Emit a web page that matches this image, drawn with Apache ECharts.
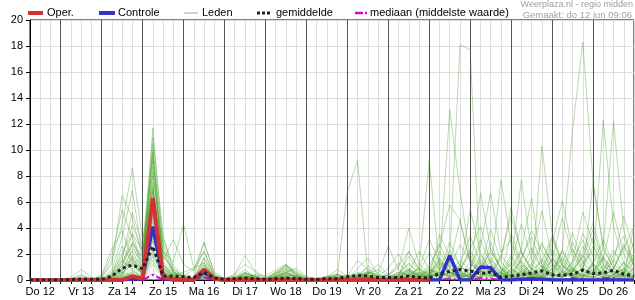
<!DOCTYPE html>
<html><head><meta charset="utf-8">
<script src="https://cdn.jsdelivr.net/npm/echarts@6/dist/echarts.min.js"></script>
<style>html,body{margin:0;padding:0;background:#fff}#c{width:635px;height:300px}</style>
</head><body><div id="c"></div>
<script>
const dayLabels = ['Do 12','Vr 13','Za 14','Zo 15','Ma 16','Di 17','Wo 18','Do 19','Vr 20','Za 21','Zo 22','Ma 23','Di 24','Wo 25','Do 26'];
const hourLabels = ['00','06','12','18'];
const yTicks = [0,2,4,6,8,10,12,14,16,18,20];
const legendNames = ['Oper.','Controle','Leden','gemiddelde','mediaan (middelste waarde)'];

const operValues = [0,0,0,0,0,0,0, 0,0,0,0.3,0.1, 6.3,0.2,0.05,0,0,0.8,0.1,
  0,0,0,0,0,0,0,0,0,0,0,0,0,0,0,0, 0,0,0,0,0];
const controleValues = [0,0,0,0,0,0,0, 0,0,0,0.1,0.1, 4.1,0.1,0,0,0,0.6,0.05,
  0,0,0,0,0,0,0,0,0,0,0,0,0,0,0,0,
  0,0,0,0,0,0,1.9,0,0,1.0,0.95,0,0,0.05,0.1,0.05,0,0,0,0,0,0,0,0,0];
const gemiddeldeValues = [0,0,0,0,0.03,0.08,0.05, 0.05,0.3,0.9,1.15,0.85, 2.6,0.3,0.3,0.25,0.2,0.6,0.15,
  0.05,0.1,0.15,0.1,0.05,0.1,0.15,0.1,0.05,0.05,0.1,0.1,0.25,0.35,0.3,0.2,
  0.2,0.2,0.3,0.2,0.15,0.5,0.65,0.8,0.7,0.5,0.6,0.2,0.3,0.4,0.55,0.7,0.4,0.35,0.45,0.75,0.5,0.55,0.75,0.45,0.3];
const mediaanValues = [0,0,0,0,0,0,0, 0,0,0,0,0, 0.4,0,0,0,0,0.2,0,
  0,0,0,0,0,0,0,0,0,0,0,0,0,0,0,0,
  0,0,0,0,0,0,0.1,0,0,0.15,0.12,0,0,0,0,0,0,0,0.15,0.1,0,0.15,0.15,0,0];

const ledenValues = [
 [0,0,0,0,0,0,0, 0,0.4,2.1,3.5,1.2, 11.7,2.4,0.6,0.2,0.1,1.1,0.2, 0,0.1,0.3,0.1,0,0.2,0.5,0.3,0,0,0.1,0.2,0,0.3,0.6,0.2, 0.1,0.4,1.2,0.6,0.2,3.5,1.8,0.7,2.4,4.1,1.3,0.5,0.2,1.6,3.8,2.2,0.9,0.4,1.5,5.2,2.8,0.7,1.9,3.4,1.1],
 [0,0,0,0,0.1,0.3,0.1, 0.2,1.5,4.3,8.6,3.1, 7.2,1.1,0.4,0.3,0,0.9,0.1, 0,0,0.2,0.4,0.1,0.6,1.1,0.4,0,0,0,0.1,0.2,0.5,0.3,0, 0,0.2,0.8,0.4,1.1,2.6,5.8,4.6,1.3,0.6,2.9,0.8,0.3,0.1,0.9,2.7,1.4,0.3,0.6,2.1,4.4,1.6,0.5,0.8,0.3],
 [0,0,0,0,0,0,0, 0,0.2,0.9,2.2,0.6, 10.5,1.8,0.9,0.3,0.2,2.9,0.6, 0.1,0.3,0.8,0.2,0,0.1,0.3,0.1,0,0.1,0.2,0.4,0.1,0.9,1.7,0.4, 0.3,1.1,2.2,0.9,0.4,1.2,0.5,0.2,0.8,2.6,6.7,2.1,3.1,1.2,0.4,0.2,1.6,0.8,2.9,1.3,0.5,0.2,0.9,2.4,4.2],
 [0,0,0,0,0.2,0.8,0.2, 0.1,0.6,1.8,4.2,2.3, 9.8,0.9,0.3,0.1,0,0.6,0.1, 0,0,0.1,0,0,0.3,0.8,0.5,0.1,0,0,0,0.1,0.2,0.1,0, 0,0,0.3,0.9,9.2,0.8,1.4,0.6,0.3,0.9,2.1,1.0,0.4,1.7,3.3,1.2,0.5,0.2,1.1,3.6,1.8,0.6,0.3,1.4,0.7],
 [0,0,0,0,0,0,0, 0,0.8,3.3,6.9,1.9, 9.2,3.1,1.1,0.4,0.1,1.7,0.3, 0,0.2,0.6,0.3,0,0,0.2,0.1,0,0,0.3,0.5,0.2,0.4,0.2,0.1, 0.2,0.6,0.4,0.1,0.3,1.1,13.1,6.9,1.6,0.7,0.3,1.8,4.9,2.1,0.8,1.4,3.4,1.1,0.4,0.9,2.6,1.2,0.4,0.1,0.3],
 [0,0,0,0,0,0.1,0, 0,0.3,1.2,2.7,0.8, 8.7,1.5,3.1,1.2,0.7,2.2,0.4, 0.1,0.4,1.9,0.6,0.1,0.4,0.9,0.6,0.2,0.1,0.3,0.2,0,0.1,0.2,0, 0.1,0.3,0.2,0.6,0.3,0.8,1.8,18.1,17.7,0.3,0.9,0.4,1.7,0.6,0.2,0.8,2.4,1.1,0.6,1.3,2.2,0.8,0.4,1.3,0.5],
 [0,0,0,0,0,0,0, 0,0.1,0.7,1.9,1.1, 8.0,2.2,1.4,4.3,0.9,1.3,0.2, 0,0.1,0.4,0.2,0,0.2,0.6,0.9,0.3,0.1,0,0.1,0.3,1.5,0.8,0.2, 0.4,0.9,4.0,1.2,0.5,0.2,0.9,2.7,1.5,0.6,1.1,0.4,1.3,7.7,2.1,0.9,0.3,2.3,11.6,18.3,7.5,2.4,0.9,0.5,1.8],
 [0,0,0,0,0,0,0, 0.3,1.9,5.4,3.2,0.9, 7.5,0.6,0.2,0,0,0.4,0, 0,0,0,0.1,0,0,0.1,0,0,0,0,0,0.2,0.4,0.9,0.3, 0.1,0.2,0.6,2.2,0.8,0.3,0.6,1.5,0.8,0.3,0.7,1.9,0.9,0.4,0.2,10.3,3.6,1.4,0.5,0.2,1.3,3.1,1.2,0.6,0.2],
 [0,0,0,0,0,0,0, 0,0,0.4,1.3,0.5, 6.8,0.9,0.3,0.1,0,0.7,0.1, 0,0,0.1,0,0,0.1,0.2,0.1,0,0,0.1,0.3,6.8,9.2,0.4,0.1, 0,0.2,0.1,0.3,0.6,1.4,0.8,0.2,0.4,1.6,0.7,0.3,0.9,2.4,6.3,1.1,0.5,0.2,0.8,1.7,3.9,1.4,0.6,0.2,0.9],
 [0,0,0,0,0,0,0, 0,0.5,2.6,1.4,0.3, 6.8,1.2,0.5,0.2,0.1,1.7,0.3, 0,0,0.5,0.2,0,0.3,0.7,0.2,0,0,0,0.2,0.1,0.3,0.1,0, 0,0.1,0.3,0.2,0.4,0.9,2.3,1.1,0.4,0.2,0.6,7.7,2.8,0.9,0.3,0.1,0.6,1.8,0.7,0.3,1.2,12.3,4.1,1.3,0.5],
 [0,0,0,0,0,0.2,0.1, 0,0.2,1.1,2.8,1.6, 6.0,0.8,0.3,0.2,0,0.5,0.1, 0,0.1,0.2,0.1,0,0.2,0.4,0.3,0,0,0.2,0.4,0.2,0.6,0.3,0.1, 0.2,0.5,1.3,0.4,0.2,0.6,0.3,0.9,2.2,1.1,0.4,0.2,0.8,0.4,1.3,2.9,1.2,0.4,0.2,0.9,0.4,2.6,12.2,3.8,1.2],
 [0,0,0,0,0,0,0, 0,0.1,0.5,1.6,0.9, 5.5,0.7,0.2,0.1,0.2,1.2,0.3, 0.1,0.2,0.3,0.1,0,0.4,1.2,0.5,0.1,0,0,0.1,0.1,0.2,1.1,0.5, 2.6,0.8,0.3,0.1,0.3,1.7,0.6,0.2,0.5,6.7,2.4,0.8,0.3,0.2,0.9,0.4,1.5,4.8,1.9,0.7,0.3,0.8,2.3,0.9,0.4],
 [0,0,0,0,0,0,0, 0,0,0.3,0.9,0.6, 5.0,1.4,0.6,0.3,0.8,2.9,0.5, 0,0.1,0.2,0.1,0,0.1,0.3,0.2,0,0,0.1,0.2,0.1,0.2,0.4,0.2, 0.1,0.3,2.2,0.8,0.3,0.6,0.2,0.4,1.3,0.5,0.2,0.6,1.9,0.8,0.3,0.6,2.1,0.8,0.3,0.5,7.5,2.6,0.9,0.4,0.2],
 [0,0,0,0,0,0,0, 0,0.4,1.5,0.8,0.2, 4.5,0.6,0.1,0,0,0.3,0, 0,0,0.1,0,0,0.1,0.2,0.1,0,0,0,0,0,0.1,0.2,0.1, 0,0.1,0.4,0.9,0.4,0.2,0.6,0.3,0.9,3.1,1.2,0.5,0.2,0.7,0.3,0.2,0.8,1.6,0.7,0.3,0.2,0.6,1.4,4.9,2.3],
 [0,0,0,0,0,0,0, 0,0.2,0.8,1.7,0.4, 4.0,2.1,0.6,0.2,0.1,0.8,0.2, 0,0.2,0.5,0.3,0.1,0.5,1.0,0.3,0,0,0.2,0.3,0.1,0.2,0.5,0.8, 0.3,0.2,0.6,0.3,0.8,0.5,1.6,0.7,0.3,1.9,0.8,0.4,3.6,1.4,0.5,0.3,1.2,0.6,2.4,1.0,0.4,1.1,0.5,0.3,4.2],
 [0,0,0,0,0,0,0, 0,0,0.2,0.6,0.3, 3.5,0.4,0.1,0,0,0.2,0, 0,0,0,0,0,0,0.1,0,0,0,0,0.1,0,0,0.1,0, 0,0,0.1,0.3,0.1,0,0.2,0.6,0.2,0.1,0.4,0.2,0.1,0.6,0.3,0.1,0.2,0.7,0.3,0.1,0.5,0.2,0.1,0.3,0.1],
 [0,0,0,0,0,0,0, 0.4,2.4,3.8,1.6,0.5, 3.0,0.9,0.4,0.1,0,0.6,0.1, 0,0.1,0.3,0.1,0,0.2,0.5,0.2,0,0,0,0.1,0,0.1,0.2,0.1, 0,0.1,0.2,0.5,0.2,0.1,0.3,1.1,0.4,0.2,0.9,0.3,0.1,0.4,1.2,0.5,0.2,0.6,0.3,0.2,0.8,0.3,0.1,0.4,0.2],
 [0,0,0,0,0,0,0, 0,0,0.1,0.4,0.2, 2.5,0.3,0.1,0,0,0.1,0, 0,0,0,0,0,0,0,0,0,0,0,0,0,0,0,0, 0,0,0,0.1,0,0,0.1,0.2,0.1,0,0,0.1,0.3,0.1,0,0,0.2,0.1,0,0.1,0.3,0.1,0,0,0.1],
 [0,0,0,0,0.1,0.4,0.1, 0,0.3,0.6,0.3,0.1, 2.0,0.4,0.2,0.1,0,0.3,0.1, 0,0.2,0.5,0.2,0,0.3,0.6,0.2,0,0,0.1,0.4,0.2,0.3,0.6,0.3, 0.2,0.4,0.8,0.3,0.2,0.5,0.2,0.8,1.9,0.7,0.3,0.2,0.6,1.4,0.5,0.2,0.4,1.1,0.4,0.2,0.6,1.7,0.6,0.3,0.2],
 [0,0,0,0,0,0,0, 0,0.1,0.3,0.2,0, 1.2,0.2,0,0,0,0.1,0, 0,0,0,0,0,0,0,0,0,0,0,0,0,0,0,0, 0,0,0,0,0,0.1,0,0,0.2,0.1,0,0,0.1,0,0,0.2,0.1,0,0,0.1,0,0,0.2,0.1,0],
 [0,0,0,0,0,0,0, 0,0,0,0.1,0, 0.5,0.1,0,0,0,0,0, 0,0,0,0,0,0,0.1,0,0,0,0,0,0,0,0,0, 0,0,0,0,0,0,0,0.1,0,0,0,0,0,0.1,0,0,0,0,0,0,0.1,0,0,0,0],
 [0,0,0,0,0,0,0, 0,0.3,1.6,5.2,2.6, 11.0,3.4,0.8,0.3,0.1,1.4,0.2, 0,0.5,1.2,0.7,0.2,0.5,0.8,0.3,0.1,0,0.1,0.2,0.1,0.2,0.3,0.1, 0,0.2,0.5,0.2,0.4,1.3,0.6,0.3,0.8,0.4,1.5,0.6,0.2,0.7,2.5,0.9,0.4,0.2,0.6,1.9,0.7,0.3,0.9,2.8,1.1],
 [0,0,0,0,0,0,0, 0,0.1,0.6,2.4,1.4, 9.5,0.7,0.2,0.1,0,0.8,0.1, 0,0,0.2,0.1,0,0.6,1.1,0.7,0.2,0,0,0.1,0,0.1,0.5,1.2, 0.4,0.2,0.1,0.3,0.9,0.4,1.2,4.6,1.3,0.5,0.2,0.6,1.4,0.5,0.2,0.9,3.2,1.2,0.5,0.3,1.1,0.4,0.8,2.6,1.0],
 [0,0,0,0,0,0,0, 0.2,1.2,6.5,4.8,1.7, 8.3,1.9,0.6,0.2,0.1,0.9,0.2, 0,0.1,0.3,0.2,0,0.1,0.4,0.3,0.1,0,0.1,0.2,0.1,0.3,0.7,0.2, 0.1,0.4,1.8,0.7,0.3,2.2,0.9,0.4,0.2,0.8,1.7,0.6,0.3,0.9,0.4,1.6,0.7,0.3,1.4,3.1,1.2,0.5,0.2,0.7,0.3],
 [0,0,0,0,0,0.1,0, 0,0,0.2,0.5,0.2, 1.8,0.3,0.1,0,0,0.4,0.1, 0,0,0.2,0.4,0.3,0.8,1.2,0.4,0.1,0,0.2,0.8,0.3,0.1,0.2,0, 0,0.1,0.3,0.1,0,0.2,0.5,0.2,0.1,0.3,0.8,0.3,0.1,0.2,0.6,0.2,0.1,0.3,0.9,0.4,0.2,0.1,0.4,0.2,0.1],
 [0,0,0,0,0,0,0, 0,0.2,1.1,3.6,2.2, 7.0,2.8,0.7,0.2,0,1.1,0.2, 0,0,0.1,0,0,0.2,0.5,0.2,0,0,0,0.2,0.4,0.2,0.1,0, 0,0.3,0.9,0.4,0.2,0.7,2.9,1.1,0.4,0.2,0.6,1.5,5.6,2.1,0.8,0.3,0.9,2.2,0.8,0.3,0.6,1.8,0.7,0.3,0.9],
 [0,0,0,0,0,0,0, 0,0.1,0.4,1.8,0.7, 6.3,0.5,0.2,0,0,0.3,0, 0,0,0.1,0,0,0,0.1,0,0,0,0,0,0,0.1,0.3,0.1, 0,0.1,0.2,0.6,2.1,0.8,0.3,0.2,0.5,1.4,0.6,0.2,0.4,1.1,0.5,0.2,0.6,2.3,0.9,0.4,0.2,0.5,1.6,0.6,0.2],
 [0,0,0,0,0,0,0, 0,0.3,0.9,1.4,0.6, 4.8,1.1,0.4,0.6,0.9,2.2,0.3, 0,0.1,0.6,0.2,0,0.1,0.2,0.1,0,0,0,0.1,0,0.1,0.2,0, 0,0.1,0.3,0.1,0.4,1.6,0.6,0.2,0.3,0.9,0.4,0.2,0.8,0.3,0.1,0.5,1.7,0.6,0.2,0.4,1.3,0.5,0.2,0.6,2.1],
 [0,0,0,0,0,0,0, 0,0,0.1,0.3,0.1, 1.5,0.2,0,0,0,0.2,0, 0,0,0,0,0,0,0.1,0,0,0,0,0,0,0.2,0.5,0.3, 0.9,2.0,0.7,0.3,0.1,0.4,1.2,0.5,0.2,0.6,2.4,0.9,0.3,0.1,0.4,1.1,0.4,0.2,0.7,2.6,1.0,0.4,0.2,0.5,1.4],
 [0,0,0,0,0,0,0, 0,0.2,1.4,2.9,1.8, 10.0,1.2,0.4,0.1,0,0.5,0.1, 0,0,0.2,0.1,0,0.3,0.6,0.2,0,0,0.1,0.2,0.1,0.2,0.4,0.2, 0.1,0.3,0.7,0.3,0.2,0.6,0.3,1.2,3.4,1.3,0.5,0.2,0.7,2.2,0.8,0.3,0.5,1.3,3.6,1.4,0.6,0.2,0.4,0.9,0.3],
 [0,0,0,0,0,0,0, 0,0.1,0.5,1.2,0.4, 3.2,0.6,0.2,0,0,0.4,0.1, 0,0,0.1,0,0,0.2,0.3,0.1,0,0,0,0.1,0,0.2,0.6,0.4, 0.2,0.6,0.3,0.9,3.1,1.4,0.5,0.9,5.4,2.1,0.7,0.3,1.2,4.3,1.6,0.6,2.8,6.1,2.3,0.8,0.4,1.6,5.2,2.0,0.7],
 [0,0,0,0,0,0,0, 0,0,0.2,0.7,0.3, 2.2,0.4,0.1,0,0,0.2,0, 0,0,0,0,0,0.1,0.2,0.1,0,0,0,0,0.1,0.4,0.2,0.1, 0.4,1.3,0.5,0.2,0.7,2.8,1.0,0.4,0.2,0.8,3.9,1.4,0.5,0.3,1.9,5.3,1.8,0.6,0.3,1.0,3.3,1.2,0.4,0.8,3.0]
];

const timeLabels = [];
dayLabels.forEach(d => hourLabels.forEach(h => timeLabels.push(d + ' ' + h)));
timeLabels.push('Vr 27 00');
timeLabels.shift();
const midnightLabels = timeLabels.filter((t, i) => t.endsWith(' 00') && i < timeLabels.length - 1);

const FONT = 'Liberation Sans, Arial, Helvetica, sans-serif';
const COL = {
  oper: '#d23232', controle: '#3333cc', leden: 'rgba(70,160,40,0.38)',
  gem: '#222222', med: '#e000e0'
};
const chart = echarts.init(document.getElementById('c'), null, {renderer: 'canvas'});

const series = [];
series.push({
  type: 'line', name: '_days', data: [], z: 1, silent: true, animation: false,
  markLine: {
    silent: true, symbol: ['none', 'none'], label: {show: false}, animation: false,
    lineStyle: {color: '#555', width: 1, type: 'solid'},
    emphasis: {disabled: true},
    data: midnightLabels.map(t => ({xAxis: t}))
  }
});
ledenValues.forEach(vals => {
  series.push({
    type: 'line', name: legendNames[2], data: vals, z: 2, symbol: 'none', showSymbol: false,
    lineStyle: {color: COL.leden, width: 1},
    emphasis: {disabled: true}, silent: true, animation: false
  });
});
series.push({
  type: 'line', name: legendNames[4], data: mediaanValues, z: 3, symbol: 'none',
  lineStyle: {color: COL.med, width: 2, type: [8, 3, 2, 3]},
  emphasis: {disabled: true}, silent: true, animation: false
});
series.push({
  type: 'line', name: legendNames[1], data: controleValues, z: 4, symbol: 'none',
  lineStyle: {color: COL.controle, width: 3.5},
  emphasis: {disabled: true}, silent: true, animation: false
});
series.push({
  type: 'line', name: legendNames[0], data: operValues, z: 5, symbol: 'none',
  lineStyle: {color: COL.oper, width: 4},
  emphasis: {disabled: true}, silent: true, animation: false
});
series.push({
  type: 'line', name: legendNames[3], data: gemiddeldeValues, z: 6, symbol: 'none',
  lineStyle: {color: COL.gem, width: 3, type: [3, 3]},
  emphasis: {disabled: true}, silent: true, animation: false
});

// legend drawn as graphic elements (line sample + text)
const legendItems = [
  {x1: 28, x2: 43, tx: 47, stroke: COL.oper, w: 4, dash: null},
  {x1: 99, x2: 115, tx: 118, stroke: COL.controle, w: 4, dash: null},
  {x1: 184, x2: 198, tx: 202, stroke: 'rgba(70,160,40,0.45)', w: 1.5, dash: null},
  {x1: 257, x2: 271, tx: 276, stroke: COL.gem, w: 3, dash: [3, 2]},
  {x1: 355, x2: 367, tx: 370, stroke: COL.med, w: 2.5, dash: [8, 2, 2, 4]}
];
const LY = 13;
const graphic = [];
legendItems.forEach((it, i) => {
  graphic.push({type: 'line', silent: true, z: 10,
    shape: {x1: it.x1, y1: LY, x2: it.x2, y2: LY},
    style: {stroke: it.stroke, lineWidth: it.w, lineDash: it.dash}});
  graphic.push({type: 'text', silent: true, z: 10, x: it.tx, y: LY,
    style: {text: legendNames[i], fill: '#000', font: '11px ' + FONT, verticalAlign: 'middle', textVerticalAlign: 'middle'}});
});
graphic.push({type: 'text', right: 2, top: 0, silent: true,
  style: {text: 'Weerplaza.nl - regio midden', fill: '#a0a0a0', font: '9px ' + FONT}});
graphic.push({type: 'text', right: 3, top: 10, silent: true,
  style: {text: 'Gemaakt: do 12 jun 09:06', fill: '#a0a0a0', font: '9.5px ' + FONT}});

chart.setOption({
  animation: false,
  backgroundColor: '#fff',
  grid: {left: 30, right: 1, top: 20, bottom: 20, show: true, borderColor: '#000', borderWidth: 1, backgroundColor: 'transparent'},
  graphic: graphic,
  xAxis: {
    type: 'category', data: timeLabels, boundaryGap: false,
    axisLine: {lineStyle: {color: '#000', width: 1}},
    axisTick: {show: true, interval: 0, length: 4, lineStyle: {color: '#000'}},
    axisLabel: {
      interval: (i, v) => v.endsWith(' 12'),
      formatter: v => v.slice(0, -3),
      color: '#000', fontFamily: FONT, fontSize: 11, margin: 6
    },
    splitLine: {show: true, interval: 0, lineStyle: {color: '#dcdcdc', width: 1}}
  },
  yAxis: {
    type: 'value', min: yTicks[0], max: yTicks[yTicks.length - 1], interval: yTicks[1] - yTicks[0],
    axisLine: {show: true, lineStyle: {color: '#000', width: 1}},
    axisTick: {show: true, length: 4, lineStyle: {color: '#000'}},
    axisLabel: {color: '#000', fontFamily: FONT, fontSize: 11, margin: 7},
    splitLine: {show: true, lineStyle: {color: '#dcdcdc', width: 1}}
  },
  series: series
});
</script>
</body></html>
